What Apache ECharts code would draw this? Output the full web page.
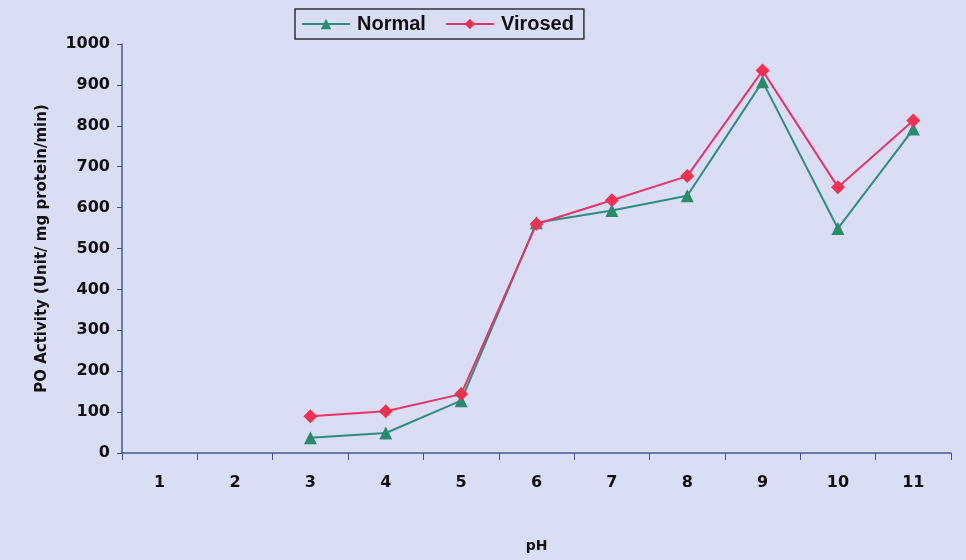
<!DOCTYPE html>
<html><head><meta charset="utf-8">
<script src="https://cdn.jsdelivr.net/npm/echarts@6/dist/echarts.min.js"></script>
<style>html,body{margin:0;padding:0;background:#dadef4;}#c{width:966px;height:560px;}</style>
</head><body><div id="c"></div>
<script>
const categories = ['1','2','3','4','5','6','7','8','9','10','11'];
const normal = [null, null, 37, 49, 128, 563, 593, 629, 908, 549, 792];
const virosed = [null, null, 90, 102, 144, 560, 618, 677, 935, 650, 813];
const yTicks = {min: 0, max: 1000, interval: 100};

const chart = echarts.init(document.getElementById('c'));
const font = 'DejaVu Sans, sans-serif';
chart.setOption({
  backgroundColor: '#dadef4',
  animation: false,
  grid: {left: 122, right: 15, top: 44, bottom: 107},
  legend: {
    top: 9, left: 295,
    itemWidth: 48, itemHeight: 13, itemGap: 19,
    padding: [5, 10, 5, 6],
    borderColor: '#333', borderWidth: 1.5,
    backgroundColor: '#dadef4',
    textStyle: {fontFamily: 'Liberation Sans, Arial, sans-serif', fontSize: 20, fontWeight: 'bold', color: '#111', padding: [0, 0, 0, 2]},
    data: ['Normal', 'Virosed']
  },
  xAxis: {
    type: 'category', data: categories, boundaryGap: true,
    name: 'pH', nameLocation: 'middle', nameGap: 86,
    nameTextStyle: {fontFamily: font, fontSize: 14, fontWeight: 'bold', color: '#111'},
    axisLine: {lineStyle: {color: '#4a5590', width: 1.5}},
    axisTick: {show: true, alignWithLabel: false, length: 7, lineStyle: {color: '#4a5590'}},
    axisLabel: {fontFamily: font, fontSize: 16, fontWeight: 'bold', color: '#111', margin: 22}
  },
  yAxis: {
    type: 'value', min: yTicks.min, max: yTicks.max, interval: yTicks.interval,
    name: 'PO Activity (Unit/ mg protein/min)', nameLocation: 'middle', nameGap: 72, nameRotate: 90,
    nameTextStyle: {fontFamily: font, fontSize: 15, fontWeight: 'bold', color: '#111'},
    axisLine: {show: true, lineStyle: {color: '#4a5590', width: 1.5}},
    axisTick: {show: true, length: 5, lineStyle: {color: '#4a5590'}},
    splitLine: {show: false},
    axisLabel: {fontFamily: font, fontSize: 16, fontWeight: 'bold', color: '#111', margin: 12, formatter: v => String(v)}
  },
  series: [
    {
      name: 'Normal', type: 'line', data: normal,
      symbol: 'triangle', symbolSize: 13,
      lineStyle: {color: '#2f8c80', width: 2},
      itemStyle: {color: '#2a8a6c'}
    },
    {
      name: 'Virosed', type: 'line', data: virosed,
      symbol: 'diamond', symbolSize: 14,
      lineStyle: {color: '#e8336a', width: 2},
      itemStyle: {color: '#f03050'}
    }
  ]
});
</script></body></html>
